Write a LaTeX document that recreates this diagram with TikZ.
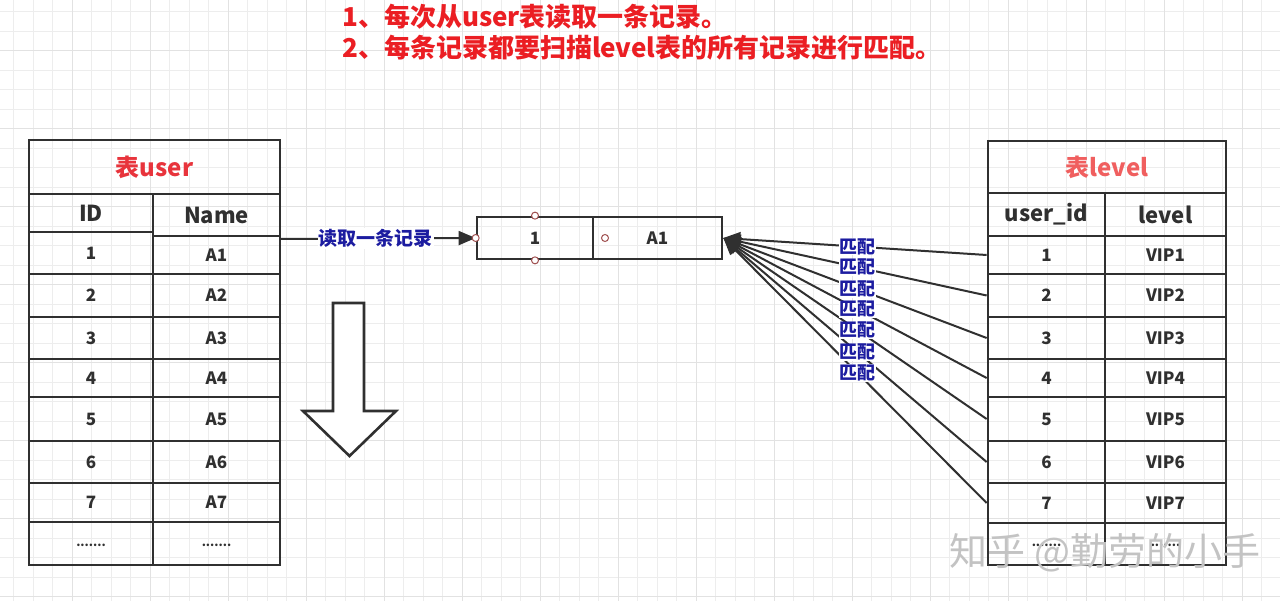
\documentclass[tikz,border=0pt]{standalone}
\usepackage{fontspec}
\setmainfont{Noto Sans CJK SC}
\usetikzlibrary{arrows.meta,calc}
\definecolor{gridminor}{RGB}{237,237,237}
\definecolor{gridmajor}{RGB}{226,226,226}
\definecolor{ink}{RGB}{48,48,48}
\definecolor{titlered}{RGB}{235,30,35}
\definecolor{ured}{RGB}{232,52,60}
\definecolor{lred}{RGB}{240,95,95}
\definecolor{lblblue}{RGB}{28,28,160}
\definecolor{portred}{RGB}{160,80,80}
\definecolor{wm}{RGB}{195,195,195}
\tikzset{
 cell/.style={draw=ink, line width=2.7pt, inner sep=0pt, font=\bfseries\fontsize{17}{20}\selectfont, text=ink},
 head/.style={font=\bfseries\fontsize{22}{26}\selectfont},
 ttl/.style={font=\bfseries\fontsize{24}{28}\selectfont},
 dotted row/.style={font=\bfseries\fontsize{12}{14}\selectfont},
 conn/.style={draw=ink, line width=2pt, -{Triangle[length=17pt,width=14pt]}},
 rlbl/.style={fill=white, inner sep=1pt, text=lblblue, font=\bfseries\fontsize{19}{22}\selectfont},
 mlbl/.style={fill=white, inner sep=0.5pt, text=lblblue, font=\bfseries\fontsize{18}{20}\selectfont},
 port/.style={circle, draw=portred, fill=white, line width=1pt, minimum size=7pt, inner sep=0pt},
 note/.style={anchor=west, text=titlered, font=\bfseries\fontsize{26}{30}\selectfont, inner sep=0pt},
 blockarrow/.style={draw=ink, line width=2.6pt, fill=white, line join=miter},
}
\newcommand\mkcell[7][]{%
  \pgfmathsetmacro\cw{#5-#3}\pgfmathsetmacro\ch{#6-#4}%
  \node[cell,#1,minimum width=\cw pt,minimum height=\ch pt] (#2) at ({(#3+#5)/2},{(#4+#6)/2}) {#7};}
\newcommand\lowdots{\raisebox{-6pt}{.......}}
\begin{document}
\begin{tikzpicture}[x=1pt,y=-1pt]
\useasboundingbox (0,0) rectangle (1280,601);
\fill[white] (0,0) rectangle (1280,601);
% grid
\foreach \i in {0,...,65} {\draw[gridminor, line width=1pt] ({13.8+19.5*\i},0) -- ++(0,601);}
\foreach \j in {0,...,30} {\draw[gridminor, line width=1pt] (0,{11.7+19.5*\j}) -- ++(1280,0);}
\foreach \i in {0,...,15} {\draw[gridmajor, line width=1.2pt] ({72.3+78*\i},0) -- ++(0,601);}
\foreach \j in {0,...,7} {\draw[gridmajor, line width=1.2pt] (0,{50.7+78*\j}) -- ++(1280,0);}

% notes
\node[note] (n1) at (342,17) {1、每次从user表读取一条记录。};
\node[note] (n2) at (342,48) {2、每条记录都要扫描level表的所有记录进行匹配。};

% left table
\mkcell[ttl,text=ured]{utitle}{29}{140}{280}{194}{表user}
\mkcell[head]{uidh}{29}{194}{153}{232}{ID}
\mkcell[head]{unameh}{153}{194}{280}{236}{Name}
\mkcell{uid1}{29}{232}{153}{274}{1}
\mkcell{una1}{153}{236}{280}{274}{A1}
\mkcell{uid2}{29}{274}{153}{317}{2}
\mkcell{una2}{153}{274}{280}{317}{A2}
\mkcell{uid3}{29}{317}{153}{359}{3}
\mkcell{una3}{153}{317}{280}{359}{A3}
\mkcell{uid4}{29}{359}{153}{397}{4}
\mkcell{una4}{153}{359}{280}{397}{A4}
\mkcell{uid5}{29}{397}{153}{441}{5}
\mkcell{una5}{153}{397}{280}{441}{A5}
\mkcell{uid6}{29}{441}{153}{483}{6}
\mkcell{una6}{153}{441}{280}{483}{A6}
\mkcell{uid7}{29}{483}{153}{522}{7}
\mkcell{una7}{153}{483}{280}{522}{A7}
\mkcell[dotted row]{uid8}{29}{522}{153}{565}{\lowdots}
\mkcell[dotted row]{una8}{153}{522}{280}{565}{\lowdots}

% right table
\mkcell[ttl,text=lred]{ltitle}{988}{141}{1226}{193}{表level}
\mkcell[head]{luidh}{988}{193}{1105}{236}{user\_id}
\mkcell[head]{llvh}{1105}{193}{1226}{236}{level}
\mkcell{l1}{988}{236}{1105}{274}{1}
\mkcell{v1}{1105}{236}{1226}{274}{VIP1}
\mkcell{l2}{988}{274}{1105}{317}{2}
\mkcell{v2}{1105}{274}{1226}{317}{VIP2}
\mkcell{l3}{988}{317}{1105}{359}{3}
\mkcell{v3}{1105}{317}{1226}{359}{VIP3}
\mkcell{l4}{988}{359}{1105}{397}{4}
\mkcell{v4}{1105}{359}{1226}{397}{VIP4}
\mkcell{l5}{988}{397}{1105}{441}{5}
\mkcell{v5}{1105}{397}{1226}{441}{VIP5}
\mkcell{l6}{988}{441}{1105}{483}{6}
\mkcell{v6}{1105}{441}{1226}{483}{VIP6}
\mkcell{l7}{988}{483}{1105}{523}{7}
\mkcell{v7}{1105}{483}{1226}{523}{VIP7}
\mkcell[dotted row]{l8}{988}{523}{1105}{565}{\lowdots}
\mkcell[dotted row]{v8}{1105}{523}{1226}{565}{\lowdots}

% record box
\mkcell{rec1}{477}{217}{593}{259}{1}
\mkcell{rec2}{593}{217}{722}{259}{A1}

% read connector
\coordinate (rs) at (280,239);
\draw[conn] (rs) -- node[rlbl,pos=0.49] (readlbl) {读取一条记录} (rec1.west);

% ports
\node[port] (p1) at (rec1.north) {};
\node[port] (p2) at (rec1.south) {};
\node[port] (p3) at (rec1.west) {};
\node[port] (p4) at (605,238) {};

% match connectors
\foreach \r in {1,...,7} {\draw[conn] (l\r.west) -- (rec2.east);}
\foreach \r in {1,...,7} {\path (l\r.west) -- node[mlbl,pos=0.49] (m\r) {匹配} (rec2.east);}

% down block arrow
\draw[blockarrow] (333,303) -- (364,303) -- (364,411) -- (396,411) -- (349.5,456) -- (303,411) -- (333,411) -- cycle;

% watermark
\node[text=wm, font=\fontsize{38}{42}\selectfont, inner sep=0pt] (wmark) at (1105,553) {知乎 @勤劳的小手};
\end{tikzpicture}
\end{document}
